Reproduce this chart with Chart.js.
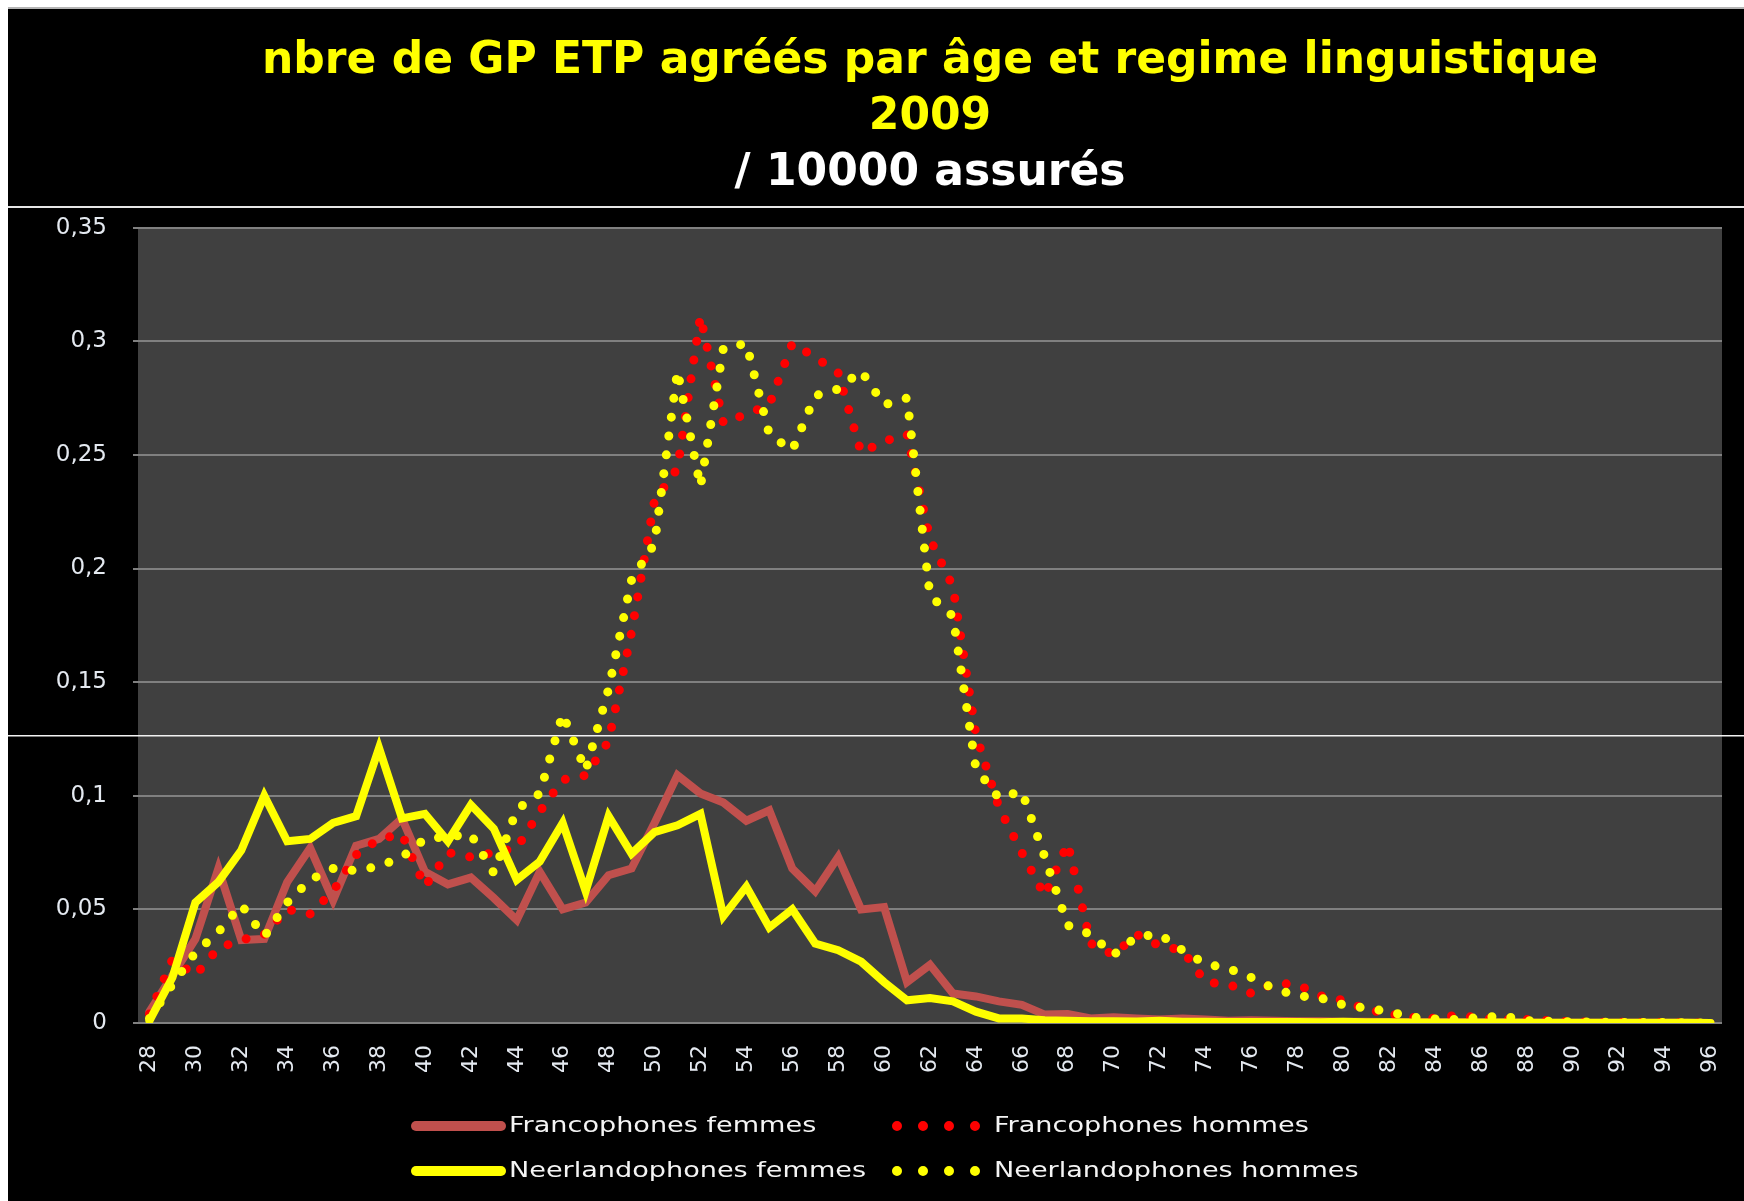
<!DOCTYPE html>
<html>
<head>
<meta charset="utf-8">
<script src="https://cdn.jsdelivr.net/npm/chart.js@4.4.1/dist/chart.umd.min.js"></script>
<style>
  html, body { margin: 0; padding: 0; background: #ffffff; }
  #wrap { position: absolute; left: 0; top: 0; width: 1744px; height: 1201px; }
</style>
</head>
<body>
<div id="wrap"><canvas id="c" width="1744" height="1201"></canvas></div>
<script>
// ---------------- data ----------------
const ages = [28,29,30,31,32,33,34,35,36,37,38,39,40,41,42,43,44,45,46,47,48,49,50,51,52,53,54,55,56,57,58,59,60,61,62,63,64,65,66,67,68,69,70,71,72,73,74,75,76,77,78,79,80,81,82,83,84,85,86,87,88,89,90,91,92,93,94,95,96];

const xTickLabels = ['28','30','32','34','36','38','40','42','44','46','48','50','52','54','56','58','60','62','64','66','68','70','72','74','76','78','80','82','84','86','88','90','92','94','96'];

const yTickLabels = ['0','0,05','0,1','0,15','0,2','0,25','0,3','0,35'];

const seriesNames = ['Francophones femmes','Francophones hommes','Neerlandophones femmes','Neerlandophones hommes'];

const titleLines = ['nbre de GP ETP agréés par âge et regime linguistique','2009'];
const subtitleText = '/ 10000 assurés';

const francophonesFemmes = [
  0.005, 0.021, 0.037, 0.068, 0.0365, 0.037, 0.062, 0.077, 0.054, 0.078,
  0.081, 0.090, 0.0665, 0.061, 0.064, 0.055, 0.0453, 0.0665, 0.050, 0.053,
  0.065, 0.068, 0.088, 0.109, 0.101, 0.097, 0.089, 0.0936, 0.068, 0.058,
  0.073, 0.050, 0.051, 0.018, 0.0256, 0.013, 0.0117, 0.0095, 0.008, 0.0037,
  0.004, 0.002, 0.0025, 0.002, 0.0015, 0.002, 0.0015, 0.001, 0.0012, 0.001,
  0.0008, 0.0008, 0.0006, 0.0005, 0.0004, 0.0004, 0.0003, 0.0003, 0.0002, 0.0002,
  0.0002, 0.0001, 0.0001, 0.0001, 0.0001, 0.0001, 0.0001, 0.0001, 0
];

const francophonesHommes = [
  0.004, 0.028, 0.021, 0.033, 0.0365, 0.039, 0.050, 0.048, 0.058, 0.074,
  0.081, 0.083, 0.060, 0.075, 0.073, 0.075, 0.077, 0.093, 0.107, 0.109,
  0.124, 0.172, 0.230, 0.244, 0.311, 0.264, 0.268, 0.272, 0.299, 0.293,
  0.286, 0.251, 0.256, 0.259, 0.213, 0.192, 0.127, 0.095, 0.075, 0.056,
  0.079, 0.035, 0.030, 0.039, 0.034, 0.032, 0.018, 0.017, 0.013, 0.0175,
  0.017, 0.012, 0.010, 0.006, 0.004, 0.0025, 0.002, 0.0035, 0.002, 0.0015,
  0.0015, 0.001, 0.0005, 0.0004, 0.0003, 0.0002, 0.0002, 0.0001, 0
];

const neerlandophonesFemmes = [
  0.001, 0.020, 0.053, 0.062, 0.076, 0.100, 0.080, 0.081, 0.088, 0.091,
  0.121, 0.090, 0.092, 0.080, 0.096, 0.0855, 0.063, 0.071, 0.088, 0.058,
  0.091, 0.0745, 0.084, 0.087, 0.092, 0.047, 0.060, 0.042, 0.050, 0.035,
  0.032, 0.027, 0.018, 0.010, 0.011, 0.0095, 0.005, 0.002, 0.002, 0.0012,
  0.001, 0.0008, 0.0008, 0.0007, 0.001, 0.0006, 0.0005, 0.0004, 0.0004, 0.0004,
  0.0004, 0.0003, 0.0006, 0.0003, 0.0003, 0.0002, 0.0002, 0.0002, 0.0002, 0.0002,
  0.0001, 0.0001, 0.0001, 0.0001, 0.0001, 0.0001, 0.0001, 0.0001, 0
];

const neerlandophonesHommes = [
  0.002, 0.017, 0.031, 0.040, 0.052, 0.038, 0.053, 0.063, 0.068, 0.067,
  0.069, 0.073, 0.081, 0.082, 0.083, 0.066, 0.094, 0.101, 0.136, 0.111,
  0.147, 0.195, 0.211, 0.287, 0.236, 0.297, 0.299, 0.259, 0.252, 0.276,
  0.279, 0.287, 0.272, 0.275, 0.188, 0.179, 0.112, 0.099, 0.102, 0.073,
  0.043, 0.039, 0.030, 0.038, 0.039, 0.032, 0.026, 0.024, 0.020, 0.015,
  0.012, 0.011, 0.008, 0.0065, 0.005, 0.0025, 0.0018, 0.0015, 0.0025, 0.003,
  0.001, 0.0008, 0.0005, 0.0004, 0.0003, 0.0002, 0.0002, 0.0001, 0
];

// ---------------- styling / plugins ----------------
const TICK_COLOR = '#e4e9f0';
const DOT_DASH = [0, 19];

const framePlugin = {
  id: 'frame',
  beforeDraw(chart) {
    const { ctx, width, height, chartArea: a } = chart;
    ctx.save();
    ctx.fillStyle = '#ffffff';
    ctx.fillRect(0, 0, width, height);
    ctx.fillStyle = '#000000';
    ctx.fillRect(8, 9, width - 8, height - 9);
    ctx.fillStyle = '#b4b4b4';
    ctx.fillRect(8, 7, width - 8, 2);
    ctx.fillStyle = '#e6e6e6';
    ctx.fillRect(8, 206, width - 8, 2);
    ctx.fillStyle = '#404040';
    ctx.fillRect(a.left, a.top, a.right - a.left, a.bottom - a.top);
    ctx.restore();
  },
  beforeDatasetsDraw(chart) {
    const { ctx, width } = chart;
    ctx.save();
    ctx.fillStyle = '#f2f2f2';
    ctx.fillRect(8, 735, width - 8, 1.5);
    ctx.restore();
  }
};

const gridLegendPlugin = {
  id: 'gridLegend',
  afterDraw(chart) {
    const ctx = chart.ctx;
    const sampleX = [[416, 501], [897, 976]];
    const textX = [509, 994];
    const rowY = [1126, 1171];
    chart.data.datasets.forEach((ds, i) => {
      const col = i % 2, row = Math.floor(i / 2);
      const y = rowY[row];
      ctx.save();
      ctx.strokeStyle = ds.borderColor;
      ctx.lineWidth = 10;
      ctx.lineCap = 'round';
      if (ds.borderDash && ds.borderDash.length) ctx.setLineDash([0, 26]);
      ctx.beginPath();
      ctx.moveTo(sampleX[col][0], y);
      ctx.lineTo(sampleX[col][1], y);
      ctx.stroke();
      ctx.restore();

      ctx.save();
      ctx.translate(textX[col], y);
      ctx.scale(1.29, 1);
      ctx.font = '21px "DejaVu Sans"';
      ctx.textBaseline = 'middle';
      ctx.textAlign = 'left';
      ctx.fillStyle = '#f4f4f4';
      ctx.fillText(ds.label, 0, 1);
      ctx.restore();
    });
  }
};

const titleFont = { family: 'DejaVu Sans', size: 44, weight: 'bold', lineHeight: 1.27 };

new Chart(document.getElementById('c'), {
  type: 'line',
  data: {
    labels: ages,
    datasets: [
      { label: seriesNames[0], data: francophonesFemmes, borderColor: '#c0504d', borderWidth: 8,
        pointRadius: 0, tension: 0, borderJoinStyle: 'miter', borderCapStyle: 'round', order: 4 },
      { label: seriesNames[1], data: francophonesHommes, borderColor: '#ff0000', borderWidth: 9,
        pointRadius: 0, tension: 0, borderDash: DOT_DASH, borderCapStyle: 'round', order: 3 },
      { label: seriesNames[2], data: neerlandophonesFemmes, borderColor: '#ffff00', borderWidth: 8,
        pointRadius: 0, tension: 0, borderJoinStyle: 'miter', borderCapStyle: 'round', order: 2 },
      { label: seriesNames[3], data: neerlandophonesHommes, borderColor: '#ffff00', borderWidth: 9,
        pointRadius: 0, tension: 0, borderDash: DOT_DASH, borderCapStyle: 'round', order: 1 }
    ]
  },
  options: {
    responsive: false,
    animation: false,
    devicePixelRatio: 1,
    layout: { padding: { left: 8, right: 22, top: 9, bottom: 0 } },
    plugins: {
      legend: { display: false },
      tooltip: { enabled: false },
      title: { display: true, fullSize: false, text: titleLines, color: '#ffff00', font: titleFont,
               padding: { top: 25, bottom: 0 } },
      subtitle: { display: true, fullSize: false, text: subtitleText, color: '#ffffff', font: titleFont,
                  padding: { top: 0, bottom: 26 } }
    },
    scales: {
      x: {
        offset: true,
        grid: { display: false, drawTicks: false },
        border: { display: false },
        ticks: {
          autoSkip: false, minRotation: 90, maxRotation: 90, padding: 22,
          color: TICK_COLOR, font: { family: 'DejaVu Sans', size: 22 },
          callback: (v, i) => xTickLabels.includes(String(ages[i])) ? String(ages[i]) : ''
        },
        afterFit(s) { s.height = 178; s.paddingLeft = 0; s.paddingRight = 0; }
      },
      y: {
        min: 0, max: 0.35,
        grid: { color: '#808080', lineWidth: 2, tickLength: 5, drawTicks: true },
        border: { display: false },
        ticks: {
          stepSize: 0.05, padding: 26, color: TICK_COLOR,
          font: { family: 'DejaVu Sans', size: 23 },
          callback: (v) => yTickLabels[Math.round(v / 0.05)]
        },
        afterFit(s) { s.width = 130; }
      }
    }
  },
  plugins: [framePlugin, gridLegendPlugin]
});
</script>
</body>
</html>
